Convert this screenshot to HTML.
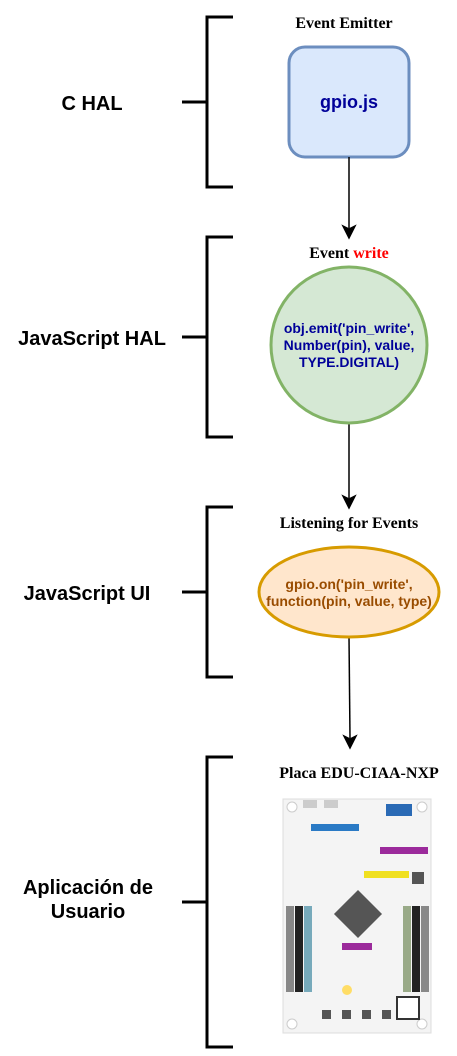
<!DOCTYPE html>
<html><head><meta charset="utf-8"><style>
html,body{margin:0;padding:0;background:#fff;width:457px;height:1056px;overflow:hidden}
svg{display:block}
.l{font-family:"Liberation Sans",sans-serif;font-weight:bold;font-size:20px;fill:#000}
.s{font-family:"Liberation Serif",serif;font-weight:bold;font-size:16px;fill:#000}
.b{font-family:"Liberation Sans",sans-serif;font-weight:bold;fill:#000099}
</style></head><body>
<svg width="457" height="1056" viewBox="0 0 457 1056" xmlns="http://www.w3.org/2000/svg">
<g fill="none" stroke="#000" stroke-width="3">
<path d="M233,17 H207 V187 H233 M182,102 H207"/>
<path d="M233,237 H207 V437 H233 M182,337 H207"/>
<path d="M233,507 H207 V677 H233 M182,592 H207"/>
<path d="M233,757 H207 V1047 H233 M182,902 H207"/>
</g>
<text class="l" x="92" y="110" text-anchor="middle">C HAL</text>
<text class="l" x="92" y="345" text-anchor="middle">JavaScript HAL</text>
<text class="l" x="87" y="600" text-anchor="middle">JavaScript UI</text>
<text class="l" x="88" y="894" text-anchor="middle">Aplicación de</text>
<text class="l" x="88" y="918" text-anchor="middle">Usuario</text>

<text class="s" x="344" y="28" text-anchor="middle">Event Emitter</text>
<rect x="289" y="47" width="120" height="110" rx="16" fill="#dae8fc" stroke="#6c8ebf" stroke-width="3"/>
<text class="b" x="349" y="108" text-anchor="middle" font-size="18">gpio.js</text>

<g stroke="#000" stroke-width="1.5" fill="#000">
<line x1="349" y1="157" x2="349" y2="228"/><path d="M343,226 L349,238 L355,226 L349,229Z"/>
<line x1="349" y1="423" x2="349" y2="498"/><path d="M343,496 L349,508 L355,496 L349,499Z"/>
<line x1="349" y1="637" x2="350" y2="738"/><path d="M344,736 L350,748 L356,736 L350,739Z"/>
</g>

<text class="s" x="349" y="258" text-anchor="middle">Event <tspan fill="#ff0000">write</tspan></text>
<circle cx="349" cy="345" r="78" fill="#d5e8d4" stroke="#82b366" stroke-width="3"/>
<text class="b" x="349" y="333" text-anchor="middle" font-size="14">obj.emit('pin_write',</text>
<text class="b" x="349" y="350" text-anchor="middle" font-size="14">Number(pin), value,</text>
<text class="b" x="349" y="367" text-anchor="middle" font-size="14">TYPE.DIGITAL)</text>

<text class="s" x="349" y="528" text-anchor="middle">Listening for Events</text>
<ellipse cx="349" cy="592" rx="90" ry="45" fill="#ffe6cc" stroke="#d79b00" stroke-width="3"/>
<text class="b" x="349" y="589" text-anchor="middle" font-size="14" style="fill:#994c00">gpio.on('pin_write',</text>
<text class="b" x="349" y="606" text-anchor="middle" font-size="14" style="fill:#994c00">function(pin, value, type)</text>

<text class="s" x="359" y="778" text-anchor="middle">Placa EDU-CIAA-NXP</text>
<rect x="283" y="799" width="148" height="234" fill="#f4f4f4" stroke="#ddd"/>
<circle cx="292" cy="807" r="5" fill="#fff" stroke="#ccc"/><circle cx="422" cy="807" r="5" fill="#fff" stroke="#ccc"/>
<circle cx="292" cy="1024" r="5" fill="#fff" stroke="#ccc"/><circle cx="422" cy="1024" r="5" fill="#fff" stroke="#ccc"/>
<rect x="303" y="800" width="14" height="8" fill="#ccc"/><rect x="324" y="800" width="14" height="8" fill="#ccc"/>
<rect x="386" y="804" width="26" height="12" fill="#2a6ab5"/>
<rect x="311" y="824" width="48" height="7" fill="#2a7ac5"/>
<rect x="380" y="847" width="48" height="7" fill="#9b2a9b"/>
<rect x="364" y="871" width="45" height="7" fill="#f0e020"/>
<rect x="412" y="872" width="12" height="12" fill="#555"/>
<rect x="341" y="897" width="34" height="34" fill="#555" transform="rotate(45 358 914)"/>
<rect x="342" y="943" width="30" height="7" fill="#9b2a9b"/>
<rect x="295" y="906" width="8" height="86" fill="#222"/><rect x="286" y="906" width="8" height="86" fill="#888"/><rect x="304" y="906" width="8" height="86" fill="#7ab"/>
<rect x="412" y="906" width="8" height="86" fill="#222"/><rect x="403" y="906" width="8" height="86" fill="#9a8"/><rect x="421" y="906" width="8" height="86" fill="#888"/>
<circle cx="347" cy="990" r="5" fill="#fd6"/>
<rect x="397" y="997" width="22" height="22" fill="#fff" stroke="#333" stroke-width="2"/>
<rect x="322" y="1010" width="9" height="9" fill="#555"/><rect x="342" y="1010" width="9" height="9" fill="#555"/>
<rect x="362" y="1010" width="9" height="9" fill="#555"/><rect x="382" y="1010" width="9" height="9" fill="#555"/>
</svg>
</body></html>
